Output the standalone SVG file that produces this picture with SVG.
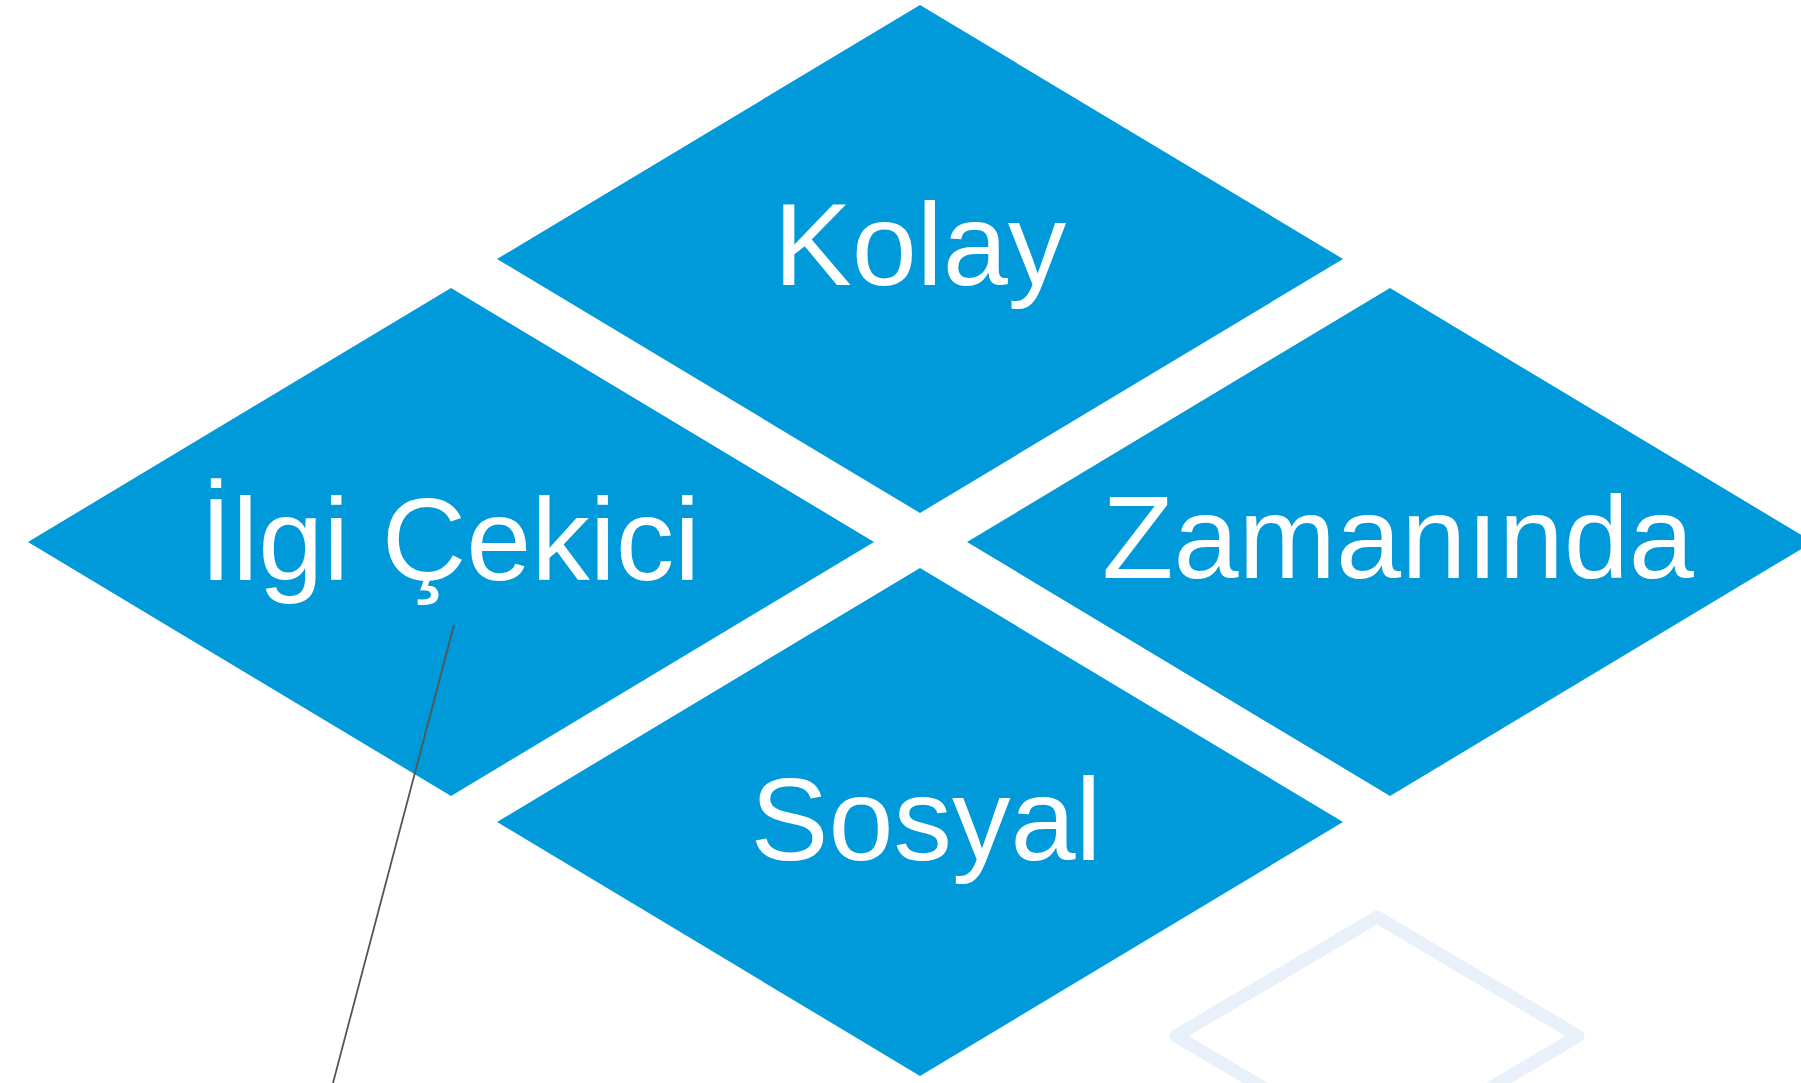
<svg xmlns="http://www.w3.org/2000/svg" width="1801" height="1083" viewBox="0 0 1801 1083">
<style>
.d{fill:#0099DA}
.t{fill:#fff;font-family:"Liberation Sans",Arial,sans-serif;font-size:117px;text-anchor:middle}
</style>
<rect width="1801" height="1083" fill="#fff"/>
<g id="ghost"><polygon points="1377,917 1578,1036 1377,1155 1176,1036" fill="none" stroke="#E8F1FA" stroke-width="13" stroke-linejoin="round"/></g>
<g id="kolay"><polygon class="d" points="920,5 1343,259 920,513 497,259"/><text class="t" x="920" y="285">Kolay</text></g>
<g id="ilgi"><polygon class="d" points="451,288 874,542 451,796 28,542"/><text class="t" x="450" y="580" font-size="118">İlgi Çekici</text></g>
<g id="zamaninda"><polygon class="d" points="1390,288 1813,542 1390,796 967,542"/><text class="t" x="1398" y="578">Zamanında</text></g>
<g id="sosyal"><polygon class="d" points="920,568 1343,822 920,1076 497,822"/><text class="t" x="926" y="860">Sosyal</text></g>
<g id="connectors"><line x1="454" y1="625" x2="333" y2="1083" stroke="#555" stroke-width="1.8"/></g>
</svg>
